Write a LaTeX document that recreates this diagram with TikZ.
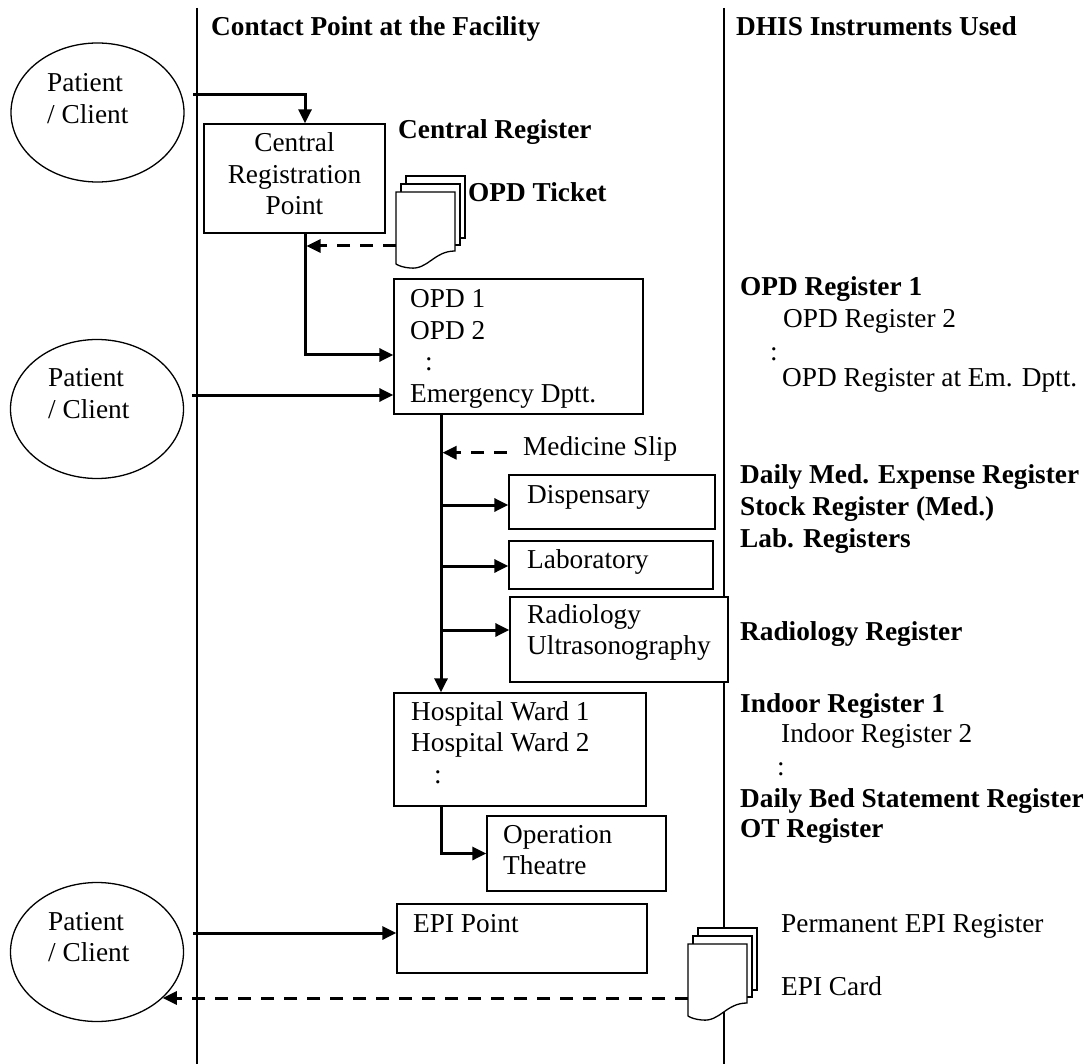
\documentclass[tikz,border=0pt]{standalone}
\usepackage{fontspec}
\setmainfont{Liberation Serif}
\usetikzlibrary{arrows.meta,shapes.geometric,calc}
\newcommand{\mylt}[1]{\begin{tabular}[t]{@{}l@{}}#1\end{tabular}}
\newcommand{\myct}[1]{\begin{tabular}[t]{@{}c@{}}#1\end{tabular}}
\tikzset{
  every node/.style={font=\fontsize{27.3}{31.5}\selectfont},
  box/.style={draw, line width=1.3pt, fill=white, inner sep=0pt, minimum width=#1},
  txt/.style={inner sep=0pt, anchor=base west},
  btxt/.style={txt, font=\fontsize{27.3}{31.5}\selectfont\bfseries},
  person/.style={draw, ellipse, line width=1.3pt, inner sep=0pt, minimum width=173pt, minimum height=139pt},
  flow/.style={line width=3pt, line join=miter, -{Triangle[length=14pt,width=13pt]}},
  dflow/.style={flow, dash pattern=on 13pt off 10pt},
  sepline/.style={line width=1.8pt},
  docstack/.pic={
    \draw[line width=1.3pt, fill=white] (10,-16) rectangle (69,46);
    \draw[line width=1.3pt, fill=white] (5,-8) rectangle (64,53);
    \draw[line width=1.3pt, fill=white] (0,0) -- (59,0) -- (59,59)
      .. controls (38,59) and (32,78) .. (14,76)
      .. controls (8,75.5) and (3,74) .. (0,72) -- cycle;
  }
}
\begin{document}
\begin{tikzpicture}[x=1pt, y=-1pt]
\useasboundingbox (0,0) rectangle (1092,1064);
% column separators
\draw[sepline] (197,8) -- (197,1064);
\draw[sepline] (724,8) -- (724,1064);
% headers
\node[btxt] (h1) at (211,36) {Contact Point at the Facility};
\node[btxt] (h2) at (736,36) {DHIS Instruments Used};
% patients
\node[person] (p1) at (97.5,112.5) {};
\node[txt] (p1t) at (47,92) {\mylt{Patient\\/ Client}};
\node[person] (p2) at (97,409) {};
\node[txt] (p2t) at (48,387) {\mylt{Patient\\/ Client}};
\node[person] (p3) at (97,952) {};
\node[txt] (p3t) at (48,930) {\mylt{Patient\\/ Client}};
% boxes
\node[box=181pt, minimum height=109pt] (crp) at (294.5,178.5) {};
\node[txt, anchor=base] (crpt) at (294.5,152) {\myct{Central\\Registration\\Point}};
\node[box=249pt, minimum height=135pt] (opd) at (518.5,346.5) {};
\node[txt] (opdt) at (410,308) {\mylt{OPD 1\\OPD 2\\\hspace*{15pt}:\\Emergency Dptt.}};
\node[box=206pt, minimum height=54pt] (disp) at (612,502) {};
\node[txt] (dispt) at (527,503) {Dispensary};
\node[box=204pt, minimum height=48pt] (lab) at (611,565) {};
\node[txt] (labt) at (527,568) {Laboratory};
\node[box=218pt, minimum height=85pt] (rad) at (619,639.5) {};
\node[txt] (radt) at (527,623) {\mylt{Radiology\\Ultrasonography}};
\node[box=252pt, minimum height=113pt] (hw) at (520,749.5) {};
\node[txt] (hwt) at (411,720) {\mylt{Hospital Ward 1\\Hospital Ward 2\\\hspace*{23pt}:}};
\node[box=179pt, minimum height=75pt] (ot) at (576.5,853.5) {};
\node[txt] (ott) at (503,843) {\mylt{Operation\\Theatre}};
\node[box=250pt, minimum height=69pt] (epi) at (522,938.5) {};
\node[txt] (epit) at (413,932) {EPI Point};
\node[txt] (ms) at (523,455) {Medicine Slip};
% documents
\pic at (396,192) {docstack};
\pic at (688,944) {docstack};
% instruments
\node[btxt] (r1) at (398,139) {Central Register};
\node[btxt] (r2) at (468,202) {OPD Ticket};
\node[btxt] (r3) at (740,296) {OPD Register 1};
\node[txt] (r4) at (783,328) {OPD Register 2};
\node[txt] (r5) at (770,361) {:};
\node[txt] (r6) at (782,387) {OPD Register at Em. Dptt.};
\node[btxt] (r7) at (740,483) {Daily Med. Expense Register};
\node[btxt] (r8) at (740,515) {Stock Register (Med.)};
\node[btxt] (r9) at (740,547) {Lab. Registers};
\node[btxt] (r10) at (740,640) {Radiology Register};
\node[btxt] (r11) at (740,712) {Indoor Register 1};
\node[txt] (r12) at (781,742) {Indoor Register 2};
\node[txt] (r13) at (777,775) {:};
\node[btxt] (r14) at (740,807) {Daily Bed Statement Register};
\node[btxt] (r15) at (740,837) {OT Register};
\node[txt] (r16) at (781,932) {Permanent EPI Register};
\node[txt] (r17) at (781,995) {EPI Card};
% connector anchors
\coordinate (s1) at (193,95);
\coordinate (s2) at (192,395);
\coordinate (s3) at (193,933);
\coordinate (cx) at (305,0);
\coordinate (vx) at (441,0);
\coordinate (d1) at (396,246);
\coordinate (d2) at (688,998);
% connectors
\draw[flow] (s1) -| (cx |- crp.north);
\draw[flow] (cx |- crp.south) |- ([yshift=-8.5pt]opd.west);
\draw[dflow] (d1) -- ([xshift=1.5pt]cx |- d1);
\draw[flow] (s2) -- (opd.west |- s2);
\draw[flow] (vx |- opd.south) -- (vx |- hw.north);
\draw[dflow] ([xshift=-16pt]ms.mid west) -- ([xshift=1.5pt]vx |- ms.mid west);
\draw[flow] ([yshift=-3pt]vx |- disp.west) -- ([yshift=-3pt]disp.west);
\draw[flow] ([yshift=-1pt]vx |- lab.west) -- ([yshift=-1pt]lab.west);
\draw[flow] ([yshift=9.5pt]vx |- rad.west) -- ([yshift=9.5pt]rad.west);
\draw[flow] (vx |- hw.south) |- (ot.west);
\draw[flow] (s3) -- (epi.west |- s3);
\draw[dflow] (d2) -- (d2 -| p3.-35);
\end{tikzpicture}
\end{document}
